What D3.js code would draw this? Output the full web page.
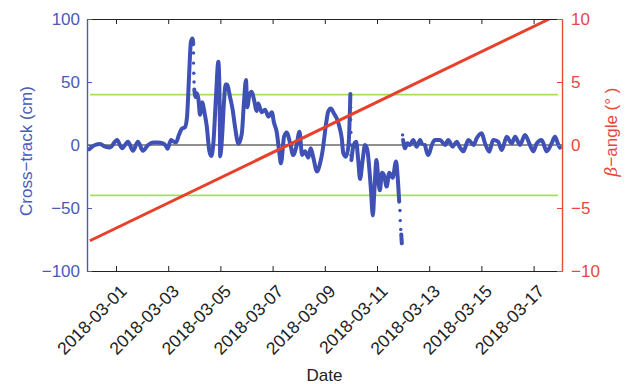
<!DOCTYPE html>
<html>
<head>
<meta charset="utf-8">
<script src="https://d3js.org/d3.v7.min.js"></script>
<style>
  body { margin: 0; background: #fff; }
  svg { display: block; font-family: "Liberation Sans", Arial, sans-serif; }
</style>
</head>
<body>
<div id="chart"></div>
<script>
// cross-track residual, days since 2018-03-01 00:00 UTC (null = gap)
const ctDays = [
  -1.03, -0.92, -0.80, -0.61, -0.42, -0.23, 0.04, 0.23, 0.46, 0.65, 0.84, 1.03, 1.23, 1.42, 1.61, 1.80,
  1.92, 1.97, 2.11, 2.18, 2.30, 2.41, 2.53, 2.64, 2.72, 2.80, 2.87, 2.93, 2.96, null,
  3.00, 3.05, 3.10, 3.16, 3.22, 3.31, 3.37, 3.48, 3.57, 3.65, 3.73, 3.83, 3.92, 3.96, 3.98, 3.99,
  4.06, 4.14, 4.20, 4.25, 4.37, 4.47, 4.56, 4.69, 4.82, 4.90, 4.98, 5.03, 5.11, 5.20, 5.29, 5.39,
  5.45, 5.58, 5.71, 5.84, 5.97, 6.05, 6.16, 6.26, 6.32, 6.44, 6.54, 6.67, 6.79, 6.91, 7.03, 7.13,
  7.24, 7.37, 7.46, 7.56, 7.70, 7.82, 7.92, 7.97, 8.05, 8.13, 8.23, 8.35, 8.46, 8.56, 8.65, 8.71,
  8.81, 8.91, 8.98, null,
  9.02, 9.09, 9.20, 9.28, 9.35, 9.45, 9.54, 9.63, 9.71, 9.77, 9.84, 9.90, 9.98, 10.06, 10.11, 10.19,
  10.27, 10.37, 10.47, 10.60, 10.73, 10.79, 10.85, null,
  10.93, 10.95, null,
  11.00, 11.07, 11.16, 11.26, 11.39, 11.52, 11.65, 11.72, null,
  11.84, 11.97, 12.10, 12.22, 12.41, 12.61, 12.73, 12.90, 13.05, 13.18, 13.31, 13.50, 13.70, 13.82,
  14.01, 14.14, 14.30, 14.45, 14.64, 14.78, 14.97, 15.16, 15.29, 15.48, 15.67, 15.86, 15.99, 16.12,
  16.31, 16.50, 16.69, 16.82, 16.95, 17.01
];
const ctValues = [
  -3.4, -1.5, 0, 0.8, -1.3, -1.9, 4, -2.6, 2.6, -4.5, 2.6, -4.5, 0, 1.9, 1.9, 1.3,
  -1, -3, 4, 3, 2, 8, 13, 14, 22, 55, 82, 84.5, 80, null,
  44, 38, 41, 36, 24, 34, 28, 14.5, -4, -8.7, 1.3, 38, 66, 48, 18, -9,
  5, 35, 48, 48, 38, 28, 14.5, 1, 9, 33, 51.6, 30, 39.7, 42.3, 35.7, 27,
  33, 26, 28, 22.5, 26, 18, 10, -6.6, -14.5, 6.6, 10, 1.5, -8, -1.3, 10.6, -8,
  -5, -10, -2.6, -10, -21, -14.5, -4, 4, 17, 26.5, 29, 25, 21, 14.5, 5.3, -6.6,
  -9.3, 0, 40.5, null,
  -12, -1.3, 2.6, -12, -27, -12, 0, -4, -20, -36, -56, -36, -12, -30, -36, -22,
  -24, -33, -22, -26, -13, -25, -45, null,
  -71, -78, null,
  4, -2.6, 1.3, 0, 4, -1.3, 4, 1, null,
  0, -8, 0, 4, 4, 0, 4, -1.3, 2.6, -2, -5, 4, 0, 5.3,
  9.3, 1.3, -5.3, 4, 2.6, -4, 6.6, 1.3, 6.6, 0, 8, 0, -5, 1.3,
  4, -5, 1.3, 6.6, 0, -2
];
// isolated samples during fast jumps
const dotDays = [2.97, 2.97, 2.98, 2.99, 8.99, 8.99, 9.00, 9.00, 9.00, 10.88, 10.89, 10.91, 10.98];
const dotValues = [73, 65, 57, 50, 30, 20, 10, 0, -8, -52, -60, -67, 8];

// beta angle (deg)
const betaDays = [-1.0, 16.6];
const betaValues = [-7.6, 10.0];

const yTicks = [-100, -50, 0, 50, 100];
const y2Ticks = [-10, -5, 0, 5, 10];
const limitLines = [-40, 40];
const dateTicks = ["2018-03-01", "2018-03-03", "2018-03-05", "2018-03-07", "2018-03-09",
  "2018-03-11", "2018-03-13", "2018-03-15", "2018-03-17"];

const W = 629, H = 384;
const mLeft = 87, mRight = 562, mTop = 19, mBottom = 271;
const blue = "#3f51b5", blueAxis = "#4a5ab8", red = "#e8402a", redAxis = "#e8483a", green = "#a3e34f";
const t0 = Date.UTC(2018, 2, 1);
const toDate = d => new Date(t0 + d * 86400000);

const x = d3.scaleUtc().domain([toDate(-1.111), toDate(17.088)]).range([mLeft, mRight]);
const y = d3.scaleLinear().domain([-100, 100]).range([mBottom, mTop]);
const y2 = d3.scaleLinear().domain([-10, 10]).range([mBottom, mTop]);

const svg = d3.select("#chart").append("svg").attr("width", W).attr("height", H);

svg.append("defs").append("clipPath").attr("id", "clip")
  .append("rect").attr("x", mLeft).attr("y", mTop).attr("width", mRight - mLeft).attr("height", mBottom - mTop);

const plot = svg.append("g").attr("clip-path", "url(#clip)");

// threshold lines
plot.selectAll(".limit").data(limitLines).enter().append("line")
  .attr("x1", mLeft + 3).attr("x2", mRight - 4)
  .attr("y1", d => y(d)).attr("y2", d => y(d))
  .attr("stroke", green).attr("stroke-width", 1.6);

// zero line
plot.append("line").attr("x1", mLeft).attr("x2", mRight).attr("y1", y(0)).attr("y2", y(0))
  .attr("stroke", "#222").attr("stroke-width", 1.2);

// cross-track series
const ct = ctDays.map((d, i) => ({ d, v: ctValues[i] }));
const line = d3.line()
  .defined(p => p.d !== null && p.v !== null)
  .x(p => x(toDate(p.d))).y(p => y(p.v))
  .curve(d3.curveMonotoneX);
plot.append("path").datum(ct).attr("d", line)
  .attr("fill", "none").attr("stroke", blue).attr("stroke-width", 4)
  .attr("stroke-linejoin", "round").attr("stroke-linecap", "round");

plot.selectAll(".dot").data(dotDays.map((d, i) => ({ d, v: dotValues[i] }))).enter().append("circle")
  .attr("cx", p => x(toDate(p.d))).attr("cy", p => y(p.v)).attr("r", 1.7).attr("fill", blue);

// beta angle
const beta = betaDays.map((d, i) => ({ d, v: betaValues[i] }));
plot.append("path").datum(beta)
  .attr("d", d3.line().x(p => x(toDate(p.d))).y(p => y2(p.v)))
  .attr("fill", "none").attr("stroke", red).attr("stroke-width", 3);

// box top/bottom
const tickDates = dateTicks.map(s => new Date(s + "T00:00:00Z"));
const fmt = d3.utcFormat("%Y-%m-%d");

const xAxis = svg.append("g").attr("transform", `translate(0,${mBottom})`)
  .call(d3.axisBottom(x).tickValues(tickDates).tickFormat(fmt).tickSizeInner(-5).tickSizeOuter(0));
xAxis.select(".domain").attr("stroke", "#222").attr("stroke-width", 1.2);
xAxis.selectAll(".tick line").attr("stroke", "#222");
xAxis.selectAll("text")
  .attr("font-size", 17.5).attr("fill", "#222")
  .attr("text-anchor", "end")
  .attr("y", 0).attr("dy", "0.35em")
  .attr("transform", "translate(7,17) rotate(-45)");

const xTop = svg.append("g").attr("transform", `translate(0,${mTop})`)
  .call(d3.axisTop(x).tickValues(tickDates).tickFormat("").tickSizeInner(-5).tickSizeOuter(0));
xTop.select(".domain").attr("stroke", "#222").attr("stroke-width", 1.2);
xTop.selectAll(".tick line").attr("stroke", "#222");

const yAxis = svg.append("g").attr("transform", `translate(${mLeft},0)`)
  .call(d3.axisLeft(y).tickValues(yTicks).tickSizeInner(-5).tickSizeOuter(0).tickPadding(7));
yAxis.select(".domain").attr("stroke", blueAxis).attr("stroke-width", 1.4);
yAxis.selectAll(".tick line").attr("stroke", blueAxis);
yAxis.selectAll("text").attr("font-size", 17).attr("fill", blueAxis);

const y2Axis = svg.append("g").attr("transform", `translate(${mRight},0)`)
  .call(d3.axisRight(y2).tickValues(y2Ticks).tickSizeInner(-5).tickSizeOuter(0).tickPadding(9));
y2Axis.select(".domain").attr("stroke", redAxis).attr("stroke-width", 1.4);
y2Axis.selectAll(".tick line").attr("stroke", redAxis);
y2Axis.selectAll("text").attr("font-size", 17).attr("fill", redAxis);

// titles
svg.append("text").attr("transform", `translate(32,${(mTop + mBottom) / 2 + 6}) rotate(-90)`)
  .attr("text-anchor", "middle").attr("font-size", 17).attr("fill", blueAxis)
  .text("Cross\u2212track (cm)");

const bt = svg.append("text").attr("transform", `translate(617,132) rotate(-90)`)
  .attr("text-anchor", "middle").attr("font-size", 17).attr("fill", redAxis);
bt.append("tspan").attr("font-style", "italic").attr("font-family", "DejaVu Serif, serif").text("\u03b2");
bt.append("tspan").text("\u2212angle (\u00b0 )");

svg.append("text").attr("x", (mLeft + mRight) / 2).attr("y", 381)
  .attr("text-anchor", "middle").attr("font-size", 17).attr("fill", "#222").text("Date");
</script>
</body>
</html>
